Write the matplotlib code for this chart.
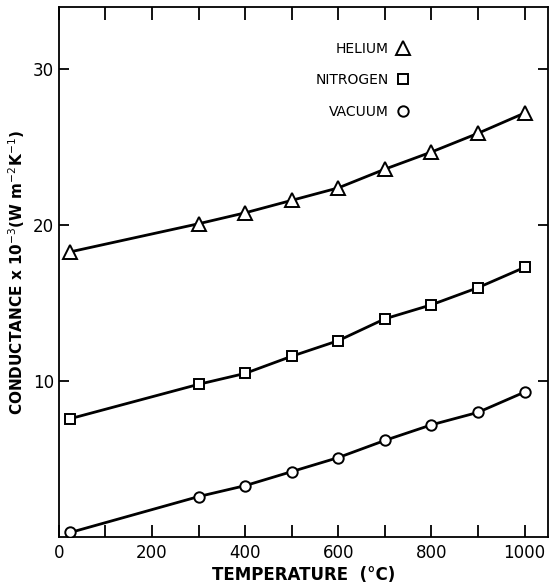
# conductance vs temperature - helium / nitrogen / vacuum
import matplotlib
matplotlib.use("Agg")
import matplotlib.pyplot as plt

temp = [25, 300, 400, 500, 600, 700, 800, 900, 1000]
helium = [18.3, 20.1, 20.8, 21.6, 22.4, 23.6, 24.7, 25.9, 27.2]
nitrogen = [7.6, 9.8, 10.5, 11.6, 12.6, 14.0, 14.9, 16.0, 17.3]
vacuum = [0.3, 2.6, 3.3, 4.2, 5.1, 6.2, 7.2, 8.0, 9.3]

series_names = ["HELIUM", "NITROGEN", "VACUUM"]
xticks_major = [0, 200, 400, 600, 800, 1000]
xticks_minor = [100, 300, 500, 700, 900]
yticks = [10, 20, 30]

plt.rcParams["font.family"] = ["DejaVu Sans"]

fig = plt.figure(figsize=(5.5, 5.87), dpi=100)
ax = fig.add_axes([0.107, 0.085, 0.889, 0.903])

markers = ["^", "s", "o"]
msizes = [10, 7, 7.5]
for name, ys, m, ms in zip(series_names, [helium, nitrogen, vacuum], markers, msizes):
    ax.plot(temp, ys, "-", color="black", lw=2.0, zorder=2)
    ax.plot(temp, ys, ls="none", marker=m, ms=ms, mfc="white", mec="black",
            mew=1.4, label=name, zorder=3)

ax.set_xlim(0, 1050)
ax.set_ylim(0, 34)
ax.set_xticks(xticks_major)
ax.set_xticks(xticks_minor, minor=True)
ax.set_yticks(yticks)

ax.tick_params(axis="x", which="both", direction="in", top=True, length=9,
               width=1.3, labelsize=12, pad=5)
ax.tick_params(axis="y", direction="in", right=True, length=7, width=1.3,
               labelsize=12)
for s in ax.spines.values():
    s.set_linewidth(1.3)

ax.set_xlabel("TEMPERATURE  (\u00b0C)", fontsize=12, fontweight="bold", labelpad=3)
ax.set_ylabel("CONDUCTANCE x 10$^{-3}$(W m$^{-2}$K$^{-1}$)", fontsize=11,
              fontweight="bold", labelpad=4)

leg = ax.legend(loc="upper left", bbox_to_anchor=(0.5, 0.958), markerfirst=False,
                frameon=False, fontsize=10, handlelength=1.0, handletextpad=0.5,
                labelspacing=1.25)
for t in leg.get_texts():
    t.set_ha("right")

fig.savefig("out.png", dpi=100)
